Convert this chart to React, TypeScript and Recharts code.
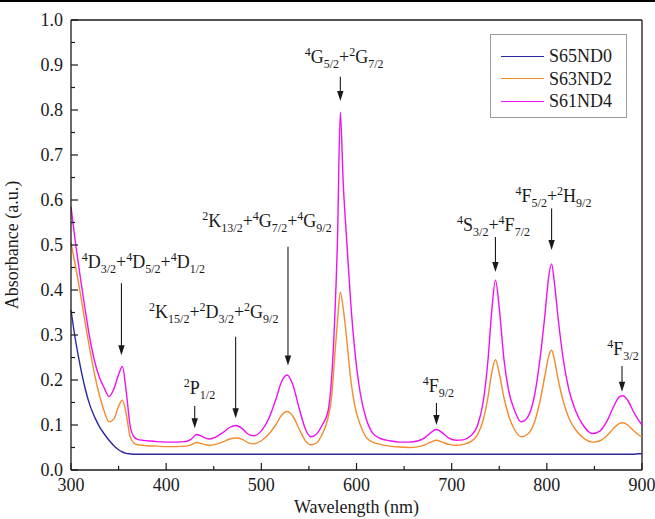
import React from 'react';
import { LineChart, Line, XAxis, YAxis, ReferenceLine, ReferenceDot, Legend } from 'recharts';

// ---------------- data ----------------
const wavelengths = [
  300, 305, 310, 315, 320, 325, 330, 335, 340, 345,
  350, 354, 358, 362, 366, 370, 375, 380, 390, 400,
  410, 420, 426, 432, 438, 445, 452, 460, 467, 473,
  480, 486, 492, 500, 508, 515, 521, 527, 533, 540,
  546, 552, 558, 564, 570, 574, 577, 580, 583, 586,
  590, 594, 598, 604, 610, 617, 625, 635, 645, 655,
  665, 672, 678, 684, 690, 697, 705, 712, 720, 727,
  733, 738, 742, 746, 750, 755, 760, 766, 773, 780,
  787, 793, 798, 802, 805, 808, 812, 817, 823, 830,
  838, 848, 856, 863, 870, 876, 880, 885, 891, 896,
  900,
];

const s65nd0 = [
  0.355, 0.285, 0.228, 0.18, 0.143, 0.117, 0.096, 0.08, 0.066, 0.054,
  0.045, 0.04, 0.037, 0.036, 0.035, 0.035, 0.035, 0.035, 0.035, 0.035,
  0.035, 0.035, 0.035, 0.035, 0.035, 0.035, 0.035, 0.035, 0.035, 0.035,
  0.035, 0.035, 0.035, 0.035, 0.035, 0.035, 0.035, 0.035, 0.035, 0.035,
  0.035, 0.035, 0.035, 0.035, 0.035, 0.035, 0.035, 0.035, 0.035, 0.035,
  0.035, 0.035, 0.035, 0.035, 0.035, 0.035, 0.035, 0.035, 0.035, 0.035,
  0.035, 0.035, 0.035, 0.035, 0.035, 0.035, 0.035, 0.035, 0.035, 0.035,
  0.035, 0.035, 0.035, 0.035, 0.035, 0.035, 0.035, 0.035, 0.035, 0.035,
  0.035, 0.035, 0.035, 0.035, 0.035, 0.035, 0.035, 0.035, 0.035, 0.035,
  0.035, 0.035, 0.035, 0.035, 0.035, 0.035, 0.035, 0.035, 0.035, 0.036,
  0.036,
];

const s63nd2 = [
  0.505, 0.45, 0.39, 0.325, 0.265, 0.21, 0.165, 0.13, 0.107, 0.113,
  0.142, 0.155, 0.125, 0.075, 0.06, 0.056, 0.055, 0.054, 0.053, 0.052,
  0.052, 0.053, 0.056, 0.061, 0.058, 0.055, 0.057, 0.063, 0.069, 0.071,
  0.068, 0.061, 0.058, 0.065, 0.08, 0.1, 0.121, 0.13, 0.12, 0.09,
  0.066, 0.056, 0.06, 0.08, 0.115, 0.165, 0.25, 0.33, 0.395, 0.36,
  0.285, 0.2, 0.145, 0.1, 0.073, 0.062, 0.057, 0.053, 0.051, 0.05,
  0.052, 0.056, 0.062, 0.066, 0.062, 0.057, 0.055, 0.057, 0.063, 0.078,
  0.11, 0.16, 0.215, 0.245, 0.215, 0.16, 0.12, 0.09, 0.074, 0.08,
  0.106, 0.155, 0.21, 0.253, 0.266, 0.245, 0.2, 0.155, 0.116, 0.09,
  0.072, 0.062, 0.065, 0.076, 0.092, 0.103, 0.105, 0.1, 0.088, 0.079,
  0.073,
];

const s61nd4 = [
  0.585, 0.5, 0.425, 0.355, 0.29, 0.24, 0.205, 0.182, 0.163, 0.18,
  0.212, 0.23, 0.175, 0.1, 0.074, 0.068, 0.066, 0.065, 0.063, 0.062,
  0.062, 0.063, 0.068, 0.079, 0.074, 0.069, 0.073, 0.084, 0.095, 0.099,
  0.092, 0.08, 0.076, 0.087, 0.115, 0.155, 0.195, 0.211, 0.19, 0.135,
  0.093, 0.074, 0.08, 0.1, 0.13, 0.21, 0.33, 0.51, 0.795, 0.64,
  0.5, 0.37, 0.27, 0.17, 0.115, 0.082, 0.07, 0.065, 0.062, 0.062,
  0.065, 0.072, 0.083, 0.09, 0.083, 0.071, 0.066, 0.067, 0.076, 0.098,
  0.15, 0.24, 0.35, 0.422, 0.36, 0.245, 0.175, 0.133, 0.107, 0.118,
  0.165, 0.25, 0.345, 0.43, 0.458, 0.415, 0.335, 0.25, 0.18, 0.133,
  0.1, 0.081, 0.087, 0.108, 0.14, 0.162, 0.165, 0.155, 0.13, 0.112,
  0.1,
];

const seriesNames = ['S65ND0', 'S63ND2', 'S61ND4'];
const seriesKeys = ['s65nd0', 's63nd2', 's61nd4'];
const seriesColors = ['#2a2a9e', '#f28c2e', '#f010f0'];

const xTicks = [300, 350, 400, 450, 500, 550, 600, 650, 700, 750, 800, 850, 900];
const xMajorTicks = [300, 400, 500, 600, 700, 800, 900];
const yTicks = [0, 0.05, 0.1, 0.15, 0.2, 0.25, 0.3, 0.35, 0.4, 0.45, 0.5, 0.55, 0.6, 0.65, 0.7, 0.75, 0.8, 0.85, 0.9, 0.95, 1.0];
const yMajorTicks = [0, 0.1, 0.2, 0.3, 0.4, 0.5, 0.6, 0.7, 0.8, 0.9, 1.0];

// term = [superscript, letter, subscript]
const annotations = [
  { terms: [['4', 'G', '5/2'], ['2', 'G', '7/2']], labelNm: 587, labelAbs: 0.905, arrowNm: 583, arrowFrom: 0.874, arrowTo: 0.82 },
  { terms: [['2', 'K', '13/2'], ['4', 'G', '7/2'], ['4', 'G', '9/2']], labelNm: 506, labelAbs: 0.541, arrowNm: 528, arrowFrom: 0.496, arrowTo: 0.232 },
  { terms: [['4', 'D', '3/2'], ['4', 'D', '5/2'], ['4', 'D', '1/2']], labelNm: 376, labelAbs: 0.448, arrowNm: 353, arrowFrom: 0.415, arrowTo: 0.255 },
  { terms: [['2', 'K', '15/2'], ['2', 'D', '3/2'], ['2', 'G', '9/2']], labelNm: 450, labelAbs: 0.337, arrowNm: 473, arrowFrom: 0.296, arrowTo: 0.115 },
  { terms: [['2', 'P', '1/2']], labelNm: 435, labelAbs: 0.169, arrowNm: 430, arrowFrom: 0.142, arrowTo: 0.093 },
  { terms: [['4', 'F', '9/2']], labelNm: 686, labelAbs: 0.173, arrowNm: 684, arrowFrom: 0.149, arrowTo: 0.1 },
  { terms: [['4', 'S', '3/2'], ['4', 'F', '7/2']], labelNm: 744, labelAbs: 0.531, arrowNm: 746, arrowFrom: 0.518, arrowTo: 0.44 },
  { terms: [['4', 'F', '5/2'], ['2', 'H', '9/2']], labelNm: 807, labelAbs: 0.596, arrowNm: 805, arrowFrom: 0.581, arrowTo: 0.489 },
  { terms: [['4', 'F', '3/2']], labelNm: 880, labelAbs: 0.256, arrowNm: 879, arrowFrom: 0.231, arrowTo: 0.174 },
];

const data = wavelengths.map((w, i) => ({
  w,
  s65nd0: s65nd0[i],
  s63nd2: s63nd2[i],
  s61nd4: s61nd4[i],
}));

// ---------------- rendering helpers ----------------
const FONT = 'Liberation Serif, Times New Roman, DejaVu Serif, serif';
const INK = '#1a1a1a';
const textStyle = { fontFamily: FONT };

const XTick = (props: any) => {
  const { x, y, payload } = props;
  const major = xMajorTicks.includes(payload.value);
  return (
    <g>
      <line x1={x} x2={x} y1={y} y2={y - (major ? 7 : 4)} stroke={INK} strokeWidth={1.2} />
      {major && (
        <text x={x} y={y + 21} textAnchor="middle" fontSize={18} style={textStyle} fill={INK}>
          {payload.value}
        </text>
      )}
    </g>
  );
};

const YTick = (props: any) => {
  const { x, y, payload } = props;
  const major = yMajorTicks.some((t) => Math.abs(t - payload.value) < 1e-6);
  return (
    <g>
      <line x1={x} x2={x + (major ? 7 : 4)} y1={y} y2={y} stroke={INK} strokeWidth={1.2} />
      {major && (
        <text x={x - 8} y={y + 6} textAnchor="end" fontSize={18} style={textStyle} fill={INK}>
          {Number(payload.value).toFixed(1)}
        </text>
      )}
    </g>
  );
};

const Arrow = (p: any) => {
  const x = p.x1;
  const top = Math.min(p.y1, p.y2);
  const tip = Math.max(p.y1, p.y2);
  return (
    <g>
      <line x1={x} x2={x} y1={top} y2={tip - 8} stroke={INK} strokeWidth={1.1} />
      <polygon points={`${x - 3.2},${tip - 10} ${x + 3.2},${tip - 10} ${x},${tip}`} fill={INK} />
    </g>
  );
};

const TermText = ({ x, y, terms }: any) => {
  const parts: any[] = [];
  terms.forEach((t: string[], i: number) => {
    if (i > 0) parts.push(<tspan key={`p${i}`} fontSize={18} dy={-5}>+</tspan>);
    parts.push(<tspan key={`a${i}`} fontSize={12} dy={-7}>{t[0]}</tspan>);
    parts.push(<tspan key={`b${i}`} fontSize={18} dy={7}>{t[1]}</tspan>);
    parts.push(<tspan key={`c${i}`} fontSize={12} dy={5}>{t[2]}</tspan>);
  });
  return (
    <text x={x} y={y} textAnchor="middle" style={textStyle} fill={INK}>
      {parts}
    </text>
  );
};

const LegendBox = () => (
  <div
    style={{
      width: 137,
      height: 84,
      boxSizing: 'border-box',
      border: '1px solid #9a9a9a',
      background: '#fff',
      position: 'relative',
      fontFamily: FONT,
    }}
  >
    {seriesNames.map((n, i) => (
      <div key={n} style={{ position: 'absolute', left: 10, top: 10 + i * 22.5, height: 22, display: 'flex', alignItems: 'center' }}>
        <div style={{ width: 43, height: 0, borderTop: `1.5px solid ${seriesColors[i]}` }} />
        <span style={{ marginLeft: 5, fontSize: 18, color: INK, lineHeight: '22px', fontFamily: FONT }}>{n}</span>
      </div>
    ))}
  </div>
);

export default function App() {
  return (
    <div style={{ position: 'absolute', left: 0, top: 0, width: 655, height: 519, background: '#fff', fontFamily: FONT }}>
      <div style={{ position: 'absolute', left: 0, top: 0, width: 655, height: 2, background: '#000' }} />
      <LineChart width={655} height={519} data={data} margin={{ top: 20, right: 13, bottom: 19, left: 0 }} style={{ fontFamily: FONT }}>
        <XAxis
          dataKey="w"
          type="number"
          domain={[300, 900]}
          ticks={xTicks}
          interval={0}
          tickSize={0}
          tickMargin={0}
          tickLine={false}
          tick={<XTick />}
          axisLine={{ stroke: INK, strokeWidth: 1.3 }}
          height={30}
          label={{
            content: (p: any) => {
              const vb = p.viewBox;
              return (
                <text x={vb.x + vb.width / 2} y={vb.y + 43} textAnchor="middle" fontSize={18} style={textStyle} fill={INK}>
                  Wavelength (nm)
                </text>
              );
            },
          }}
        />
        <YAxis
          type="number"
          domain={[0, 1]}
          ticks={yTicks}
          interval={0}
          tickSize={0}
          tickMargin={0}
          tickLine={false}
          tick={<YTick />}
          axisLine={{ stroke: INK, strokeWidth: 1.3 }}
          width={71}
          label={{
            content: (p: any) => {
              const vb = p.viewBox;
              const cx = 18;
              const cy = vb.y + vb.height / 2;
              return (
                <text x={cx} y={cy} transform={`rotate(-90 ${cx} ${cy})`} textAnchor="middle" fontSize={18} style={textStyle} fill={INK}>
                  Absorbance (a.u.)
                </text>
              );
            },
          }}
        />
        <ReferenceLine y={1} stroke={INK} strokeWidth={1.3} />
        <ReferenceLine x={900} stroke={INK} strokeWidth={1.3} />
        {seriesKeys.map((k, i) => (
          <Line
            key={k}
            dataKey={k}
            name={seriesNames[i]}
            type="monotone"
            stroke={seriesColors[i]}
            strokeWidth={1.4}
            dot={false}
            activeDot={false}
            isAnimationActive={false}
          />
        ))}
        {annotations.map((a, i) => (
          <ReferenceLine
            key={`ar${i}`}
            segment={[{ x: a.arrowNm, y: a.arrowFrom }, { x: a.arrowNm, y: a.arrowTo }]}
            shape={Arrow}
          />
        ))}
        {annotations.map((a, i) => (
          <ReferenceDot
            key={`lb${i}`}
            x={a.labelNm}
            y={a.labelAbs}
            r={0}
            shape={(p: any) => <TermText x={p.cx} y={p.cy} terms={a.terms} />}
          />
        ))}
        <Legend
          layout="horizontal"
          verticalAlign="middle"
          align="center"
          content={() => <LegendBox />}
          wrapperStyle={{ position: 'absolute', left: 490, top: 34, width: 137, height: 84 }}
        />
      </LineChart>
    </div>
  );
}
